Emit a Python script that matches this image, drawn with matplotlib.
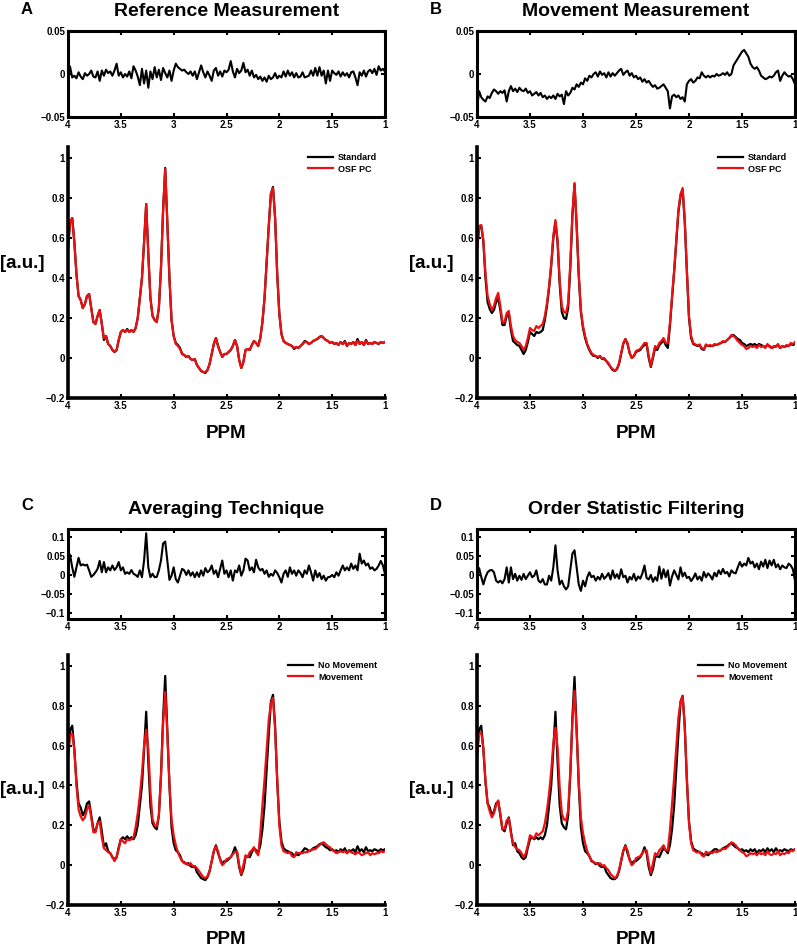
import numpy as np
import matplotlib
matplotlib.use('Agg')
import matplotlib.pyplot as plt
from matplotlib.lines import Line2D

plt.rcParams['font.family'] = ['Liberation Sans', 'DejaVu Sans']
plt.rcParams['font.weight'] = 'bold'

# ---------------- data ----------------
ppm = np.linspace(4.0, 1.0, 151)          # 0.02 ppm sampling, 4.00 -> 1.00

# reference (no movement), standard processing
ref_standard = [
    0.55, 0.68, 0.70, 0.58, 0.42, 0.31, 0.29, 0.25, 0.27, 0.31,
    0.32, 0.25, 0.18, 0.17, 0.21, 0.24, 0.17, 0.09, 0.11, 0.07,
    0.06, 0.04, 0.03, 0.04, 0.09, 0.13, 0.14, 0.13, 0.145, 0.13,
    0.14, 0.13, 0.15, 0.20, 0.30, 0.40, 0.58, 0.77, 0.52, 0.30,
    0.21, 0.19, 0.18, 0.25, 0.45, 0.74, 0.95, 0.68, 0.40, 0.19,
    0.11, 0.075, 0.065, 0.05, 0.02, 0.015, 0.005, 0.01, -0.005, -0.01,
    -0.005, -0.035, -0.05, -0.065, -0.07, -0.075, -0.06, -0.03, 0.02, 0.07,
    0.10, 0.06, 0.03, 0.005, 0.02, 0.02, 0.03, 0.04, 0.06, 0.09,
    0.06, -0.01, -0.05, -0.02, 0.04, 0.045, 0.04, 0.065, 0.085, 0.075,
    0.06, 0.10, 0.18, 0.30, 0.48, 0.66, 0.82, 0.855, 0.70, 0.42,
    0.22, 0.12, 0.085, 0.075, 0.07, 0.065, 0.06, 0.045, 0.055, 0.05,
    0.06, 0.07, 0.085, 0.08, 0.07, 0.075, 0.085, 0.09, 0.095, 0.105,
    0.11, 0.10, 0.09, 0.085, 0.075, 0.08, 0.07, 0.075, 0.065, 0.08,
    0.07, 0.085, 0.06, 0.075, 0.07, 0.08, 0.065, 0.095, 0.07, 0.08,
    0.065, 0.09, 0.07, 0.075, 0.07, 0.08, 0.075, 0.07, 0.08, 0.075,
    0.08]

# reference (no movement), OSF phase correction
ref_osf = [
    0.55, 0.68, 0.70, 0.58, 0.42, 0.31, 0.29, 0.25, 0.27, 0.31,
    0.32, 0.25, 0.18, 0.17, 0.21, 0.24, 0.17, 0.10, 0.11, 0.07,
    0.06, 0.04, 0.03, 0.04, 0.09, 0.13, 0.14, 0.13, 0.14, 0.13,
    0.14, 0.13, 0.15, 0.20, 0.30, 0.40, 0.58, 0.77, 0.52, 0.30,
    0.21, 0.19, 0.18, 0.25, 0.45, 0.74, 0.945, 0.68, 0.40, 0.19,
    0.11, 0.07, 0.06, 0.045, 0.02, 0.015, 0.005, 0.01, -0.005, -0.01,
    -0.005, -0.035, -0.05, -0.065, -0.07, -0.07, -0.06, -0.03, 0.02, 0.07,
    0.10, 0.06, 0.03, 0.005, 0.02, 0.02, 0.03, 0.04, 0.06, 0.09,
    0.06, -0.01, -0.05, -0.02, 0.04, 0.045, 0.04, 0.065, 0.085, 0.075,
    0.06, 0.10, 0.18, 0.30, 0.48, 0.66, 0.82, 0.85, 0.70, 0.42,
    0.22, 0.12, 0.085, 0.075, 0.07, 0.065, 0.06, 0.05, 0.055, 0.05,
    0.06, 0.07, 0.08, 0.08, 0.07, 0.075, 0.085, 0.09, 0.095, 0.105,
    0.11, 0.10, 0.09, 0.085, 0.075, 0.08, 0.07, 0.075, 0.065, 0.08,
    0.07, 0.08, 0.06, 0.075, 0.07, 0.08, 0.065, 0.085, 0.07, 0.08,
    0.065, 0.085, 0.07, 0.075, 0.07, 0.08, 0.075, 0.07, 0.08, 0.075,
    0.08]

# movement, standard processing
mov_standard = [
    0.54, 0.65, 0.66, 0.58, 0.40, 0.28, 0.245, 0.225, 0.24, 0.28,
    0.30, 0.24, 0.165, 0.165, 0.21, 0.22, 0.14, 0.085, 0.075, 0.065,
    0.06, 0.04, 0.02, 0.04, 0.08, 0.13, 0.12, 0.11, 0.13, 0.125,
    0.13, 0.14, 0.19, 0.26, 0.35, 0.46, 0.60, 0.68, 0.58, 0.37,
    0.23, 0.20, 0.195, 0.25, 0.45, 0.71, 0.87, 0.66, 0.41, 0.23,
    0.15, 0.10, 0.065, 0.04, 0.02, 0.01, 0.01, 0.0, 0.01, -0.005,
    -0.005, -0.015, -0.03, -0.045, -0.06, -0.065, -0.055, -0.03, 0.02, 0.07,
    0.095, 0.07, 0.025, 0.0, 0.01, 0.03, 0.035, 0.04, 0.055, 0.065,
    0.07, 0.0, -0.045, 0.0, 0.05, 0.04, 0.065, 0.075, 0.09, 0.065,
    0.05, 0.16, 0.30, 0.43, 0.58, 0.73, 0.81, 0.84, 0.68, 0.43,
    0.20, 0.10, 0.07, 0.065, 0.06, 0.065, 0.045, 0.04, 0.065, 0.06,
    0.06, 0.06, 0.065, 0.065, 0.07, 0.075, 0.08, 0.08, 0.09, 0.10,
    0.11, 0.115, 0.105, 0.095, 0.09, 0.075, 0.07, 0.06, 0.065, 0.07,
    0.065, 0.07, 0.06, 0.07, 0.065, 0.06, 0.055, 0.065, 0.06, 0.05,
    0.055, 0.06, 0.065, 0.05, 0.06, 0.055, 0.06, 0.06, 0.07, 0.065,
    0.07]

# movement, OSF phase correction
mov_osf = [
    0.55, 0.66, 0.665, 0.59, 0.42, 0.31, 0.27, 0.24, 0.26, 0.30,
    0.325, 0.26, 0.18, 0.18, 0.225, 0.235, 0.16, 0.11, 0.09, 0.08,
    0.075, 0.06, 0.04, 0.06, 0.10, 0.15, 0.14, 0.135, 0.16, 0.15,
    0.16, 0.17, 0.21, 0.275, 0.36, 0.47, 0.61, 0.69, 0.59, 0.39,
    0.26, 0.23, 0.225, 0.275, 0.47, 0.72, 0.875, 0.67, 0.42, 0.24,
    0.16, 0.11, 0.07, 0.045, 0.025, 0.015, 0.01, 0.005, 0.01, -0.003,
    0.0, -0.015, -0.025, -0.045, -0.055, -0.065, -0.055, -0.025, 0.025, 0.075,
    0.095, 0.075, 0.025, 0.0, 0.01, 0.035, 0.04, 0.045, 0.06, 0.075,
    0.075, 0.01, -0.04, 0.01, 0.06, 0.05, 0.075, 0.085, 0.10, 0.075,
    0.075, 0.175, 0.31, 0.44, 0.59, 0.74, 0.82, 0.85, 0.69, 0.44,
    0.21, 0.11, 0.075, 0.068, 0.063, 0.068, 0.05, 0.043, 0.068, 0.06,
    0.065, 0.06, 0.07, 0.065, 0.07, 0.075, 0.085, 0.08, 0.09, 0.10,
    0.115, 0.11, 0.10, 0.085, 0.075, 0.065, 0.06, 0.045, 0.05, 0.06,
    0.055, 0.06, 0.05, 0.065, 0.055, 0.06, 0.05, 0.07, 0.055, 0.05,
    0.06, 0.055, 0.07, 0.05, 0.06, 0.055, 0.065, 0.06, 0.075, 0.07,
    0.08]

# difference spectra (upper small plots)
res_reference = [
    0.012, 0.008, -0.004, -0.002, -0.005, 0.002, -0.003, -0.006, 0.001, -0.002,
    0.0, 0.004, -0.003, -0.004, 0.003, -0.008, 0.004, -0.002, 0.005, 0.001,
    0.003, -0.002, 0.004, 0.012, -0.002, 0.002, -0.004, 0.0, -0.003, 0.003,
    -0.005, 0.009, 0.004, -0.003, -0.013, 0.006, -0.011, 0.004, -0.016, 0.003,
    -0.006, 0.008, -0.004, 0.005, -0.007, 0.007, 0.001, -0.004, 0.004, -0.008,
    0.004, 0.012, 0.008, 0.006, 0.004, 0.005, 0.002, 0.0, 0.003, -0.002,
    0.003, -0.006, 0.002, 0.01, 0.002, -0.004, 0.003, -0.002, -0.008, 0.004,
    0.007, -0.002, 0.003, -0.003, 0.004, 0.002, 0.005, 0.015, 0.003, -0.004,
    0.006, 0.001, 0.004, 0.013, 0.002, 0.005, -0.002, 0.004, -0.004, -0.001,
    -0.006, -0.003, -0.008, -0.004, -0.009, -0.002, -0.006, -0.004, 0.001, -0.005,
    -0.002, -0.004, 0.003, -0.003, 0.004, -0.002, 0.002, -0.004, 0.001, -0.004,
    -0.003, 0.002, -0.004, -0.003, -0.002, 0.004, -0.002, 0.007, -0.002, 0.008,
    -0.002, 0.004, -0.011, 0.004, -0.008, 0.004, 0.001, -0.001, 0.003, -0.003,
    0.002, -0.002, 0.001, -0.004, 0.002, 0.003, -0.004, -0.013, 0.002, -0.002,
    0.004, -0.003, 0.003, 0.005, 0.001, 0.006, -0.001, 0.009, 0.004, 0.006,
    0.003]

res_movement = [
    -0.04, -0.02, -0.027, -0.03, -0.032, -0.026, -0.028, -0.022, -0.018, -0.02,
    -0.023, -0.02, -0.022, -0.019, -0.032, -0.02, -0.014, -0.02, -0.017, -0.021,
    -0.016, -0.019, -0.02, -0.017, -0.022, -0.02, -0.025, -0.023, -0.021, -0.025,
    -0.022, -0.027, -0.025, -0.029, -0.026, -0.028, -0.025, -0.029, -0.023, -0.026,
    -0.024, -0.035, -0.02, -0.025, -0.022, -0.016, -0.018, -0.012, -0.015, -0.01,
    -0.012, -0.005, -0.008, -0.002, -0.004, 0.0, 0.002, -0.003, 0.003, -0.001,
    0.001, -0.004, 0.002, -0.003, 0.001, -0.002, 0.001, 0.004, 0.006, -0.001,
    0.002, 0.004, -0.002, 0.001, -0.004, -0.002, -0.006, -0.004, -0.009, -0.006,
    -0.01, -0.008, -0.012, -0.015, -0.013, -0.017, -0.016, -0.014, -0.012, -0.016,
    -0.02, -0.04, -0.026, -0.024, -0.027, -0.025, -0.029, -0.027, -0.032, -0.012,
    -0.008, -0.006, -0.01, -0.008, -0.004, -0.005, 0.002, -0.002, -0.004, -0.002,
    -0.004, -0.002, -0.003, 0.0, -0.002, -0.001, 0.001, -0.001, 0.002, -0.002,
    0.0, 0.01, 0.014, 0.018, 0.022, 0.026, 0.028, 0.024, 0.02, 0.012,
    0.008, 0.006, 0.008, 0.004, -0.002, -0.004, -0.006, -0.005, -0.003, -0.004,
    -0.002, 0.002, 0.004, -0.008, -0.002, 0.002, -0.001, -0.003, -0.002, -0.006,
    -0.012]

res_averaging = [
    0.06, 0.052, 0.02, -0.005, 0.02, 0.045, 0.025, 0.028, 0.025, 0.027,
    0.012, -0.005, 0.0, 0.007, 0.016, 0.037, 0.007, 0.034, 0.007, 0.02,
    0.012, 0.025, 0.013, 0.02, 0.034, 0.012, 0.02, 0.003, 0.007, 0.003,
    0.013, 0.003, 0.0, -0.005, 0.012, -0.006, 0.038, 0.11, 0.02, -0.006,
    0.003, -0.006, -0.005, 0.012, 0.038, 0.083, 0.088, 0.038, -0.013, -0.002,
    0.02, -0.011, -0.02, -0.002, 0.016, 0.012, 0.0, 0.012, -0.002, 0.007,
    -0.006, 0.007, -0.005, 0.012, -0.002, 0.018, 0.007, 0.012, 0.025, 0.003,
    0.012, -0.006, 0.016, 0.038, 0.003, 0.012, -0.006, 0.012, -0.015, 0.012,
    0.007, 0.025, -0.002, 0.012, 0.043, 0.038, 0.012, 0.02, 0.007, 0.04,
    0.02, 0.012, 0.016, 0.003, 0.012, -0.005, 0.003, -0.002, 0.012, 0.005,
    -0.006, -0.02, 0.003, 0.012, -0.005, 0.02, 0.003, 0.012, -0.002, 0.012,
    0.005, -0.006, 0.012, 0.003, 0.025, 0.007, -0.015, 0.012, -0.006, 0.005,
    -0.011, -0.002, -0.015, -0.006, -0.005, 0.0, -0.006, 0.007, -0.002, 0.012,
    0.025, 0.012, 0.02, 0.012, 0.03, 0.016, 0.025, 0.012, 0.056, 0.03,
    0.038, 0.025, 0.03, 0.016, 0.02, 0.012, 0.016, 0.025, 0.037, 0.025,
    0.003]

res_osf = [
    0.012, 0.018, -0.005, -0.025, -0.006, 0.007, 0.012, 0.013, 0.007, -0.015,
    -0.02, -0.015, -0.022, -0.011, 0.02, -0.02, 0.02, -0.011, 0.003, -0.015,
    -0.002, -0.013, 0.003, -0.011, -0.002, 0.007, -0.006, -0.002, 0.012, -0.015,
    -0.02, -0.011, -0.025, -0.025, -0.002, -0.015, 0.02, 0.078, 0.012, -0.025,
    -0.015, -0.03, -0.038, -0.03, 0.012, 0.056, 0.065, 0.02, -0.025, -0.042,
    -0.015, -0.03, -0.006, 0.007, -0.006, -0.002, -0.015, -0.005, -0.012, 0.003,
    -0.01, -0.004, 0.005, -0.012, 0.012, -0.008, 0.002, -0.01, 0.015, -0.006,
    -0.002, -0.02, -0.005, -0.012, 0.003, -0.015, -0.004, -0.01, 0.004, 0.025,
    -0.008, -0.012, 0.0, -0.018, -0.006, -0.015, 0.022, -0.01, 0.015, -0.006,
    0.012, -0.028, -0.004, 0.012, 0.0, -0.012, 0.02, -0.004, 0.006, -0.008,
    -0.005, -0.016, -0.008, 0.004, -0.012, -0.004, -0.015, 0.008, -0.006, 0.004,
    -0.002, -0.012, 0.006, -0.004, 0.012, 0.002, 0.016, 0.004, 0.008, -0.004,
    0.012, 0.006, 0.004, 0.02, 0.034, 0.022, 0.03, 0.025, 0.045, 0.03,
    0.035, 0.02, 0.03, 0.015, 0.035, 0.022, 0.04, 0.018, 0.038, 0.025,
    0.04, 0.02, 0.028, 0.015, 0.025, 0.02, 0.018, 0.03, 0.025, 0.015,
    -0.015]

letters = ['A', 'B', 'C', 'D']
titles = ['Reference Measurement', 'Movement Measurement',
          'Averaging Technique', 'Order Statistic Filtering']
legend_pairs = [('Standard', 'OSF PC'), ('Standard', 'OSF PC'),
                ('No Movement', 'Movement'), ('No Movement', 'Movement')]
black_series = [ref_standard, mov_standard, ref_standard, ref_osf]
red_series = [ref_osf, mov_osf, mov_standard, mov_osf]
residuals = [res_reference, res_movement, res_averaging, res_osf]
x_ticks = [4, 3.5, 3, 2.5, 2, 1.5, 1]
x_ticklabels = ['4', '3.5', '3', '2.5', '2', '1.5', '1']
main_yticks = [-0.2, 0, 0.2, 0.4, 0.6, 0.8, 1]
main_yticklabels = ['\u22120.2', '0', '0.2', '0.4', '0.6', '0.8', '1']
res_yticks_top = [-0.05, 0, 0.05]
res_yticklabels_top = ['\u22120.05', '0', '0.05']
res_yticks_bot = [-0.1, -0.05, 0, 0.05, 0.1]
res_yticklabels_bot = ['\u22120.1', '\u22120.05', '0', '0.05', '0.1']

# ---------------- layout (pixels) ----------------
W, H = 797, 949
fig = plt.figure(figsize=(W / 100, H / 100), dpi=100)


def add_ax(l, t, r, b):
    return fig.add_axes([l / W, 1 - b / H, (r - l) / W, (b - t) / H])


cols = [(68, 385), (477, 795)]
rows = [dict(res=(31, 117), main=(147, 398), title_y=12, letter_y=9,
             au_y=263, ppm_y=433),
        dict(res=(529, 619), main=(655, 905), title_y=510, letter_y=505,
             au_y=789, ppm_y=940)]

tick_fs = 7
for i in range(4):
    r = rows[i // 2]
    l, rr = cols[i % 2]

    # residual axes
    ax = add_ax(l, r['res'][0], rr, r['res'][1])
    ax.plot(ppm, residuals[i], color='black', lw=1.5)
    ax.set_xlim(4, 1)
    if i < 2:
        ax.set_ylim(-0.05, 0.05)
        ax.set_yticks(res_yticks_top)
        ax.set_yticklabels(res_yticklabels_top)
    else:
        ax.set_ylim(-0.116, 0.121)
        ax.set_yticks(res_yticks_bot)
        ax.set_yticklabels(res_yticklabels_bot)
    ax.set_xticks(x_ticks)
    ax.set_xticklabels(x_ticklabels)
    for s in ax.spines.values():
        s.set_linewidth(2.2)
    ax.tick_params(direction='in', length=3, width=1.5, top=True, right=True,
                   labelsize=tick_fs, pad=2)

    # main spectrum axes
    ax2 = add_ax(l, r['main'][0], rr, r['main'][1])
    ax2.plot(ppm, black_series[i], color='black', lw=1.6)
    ax2.plot(ppm, red_series[i], color='#ee1010', lw=1.6)
    ax2.set_xlim(4, 1)
    ax2.set_ylim(-0.2, 1.055)
    ax2.set_xticks(x_ticks)
    ax2.set_xticklabels(x_ticklabels)
    ax2.set_yticks(main_yticks)
    ax2.set_yticklabels(main_yticklabels)
    ax2.spines['top'].set_visible(False)
    ax2.spines['right'].set_visible(False)
    for s in ('left', 'bottom'):
        ax2.spines[s].set_linewidth(2.6)
    ax2.tick_params(direction='in', length=3, width=1.5,
                    labelsize=tick_fs, pad=2)
    handles = [Line2D([], [], color='black', lw=1.6),
               Line2D([], [], color='#ee1010', lw=1.6)]
    ax2.legend(handles, legend_pairs[i], loc='upper right',
               bbox_to_anchor=(0.975, 0.975), frameon=False,
               fontsize=6.5, handlelength=2.8, handletextpad=0.5,
               labelspacing=0.25, borderpad=0, borderaxespad=0)

    # texts
    cx = (l + rr) / 2
    fig.text(cx / W, 1 - r['title_y'] / H, titles[i], fontsize=14,
             fontweight='bold', ha='center', va='center')
    fig.text((l - 41) / W, 1 - r['letter_y'] / H, letters[i], fontsize=12,
             fontweight='bold', ha='center', va='center')
    fig.text((l - 68) / W, 1 - r['au_y'] / H, '[a.u.]', fontsize=13.5,
             fontweight='bold', ha='left', va='center')
    fig.text(cx / W, 1 - r['ppm_y'] / H, 'PPM', fontsize=13.5,
             fontweight='bold', ha='center', va='center')

fig.savefig('out.png', dpi=100)
